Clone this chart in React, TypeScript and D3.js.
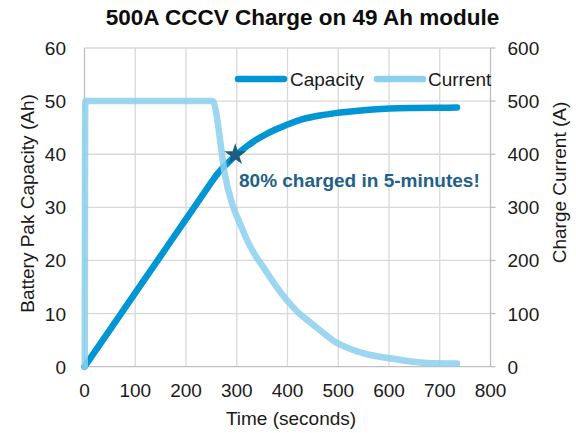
import React from "react";
import * as d3 from "d3";

const title = "500A CCCV Charge on 49 Ah module";
const xTicks = [0, 100, 200, 300, 400, 500, 600, 700, 800];
const yLeftTicks = [0, 10, 20, 30, 40, 50, 60];
const yRightTicks = [0, 100, 200, 300, 400, 500, 600];

// Capacity (Ah) vs time (s)
const capTime = [0, 50, 100, 150, 200, 240, 254, 262, 270, 285, 297, 320, 340, 360, 385, 400, 430, 464, 500, 550, 602, 650, 700, 734];
const capValue = [0, 6.94, 13.89, 20.83, 27.78, 33.33, 35.28, 36.3, 37.2, 38.6, 39.7, 41.5, 42.8, 43.9, 45.0, 45.6, 46.6, 47.3, 47.8, 48.3, 48.6, 48.7, 48.75, 48.8];

// Current (A) vs time (s)
const curTime = [0.5, 1.5, 250, 254, 260, 267, 276, 293, 308, 320, 335, 352, 375, 398, 420, 444, 470, 495, 525, 563, 608, 642, 675, 734];
const curValue = [0, 500, 500, 499, 475, 428, 365, 301, 266, 239, 212, 188, 155, 126, 103, 84, 64, 46, 33, 22, 15, 10, 7, 6];

const starPoint = { t: 297, v: 39.9 };
const annotation = "80% charged in 5-minutes!";

export default function App() {
  const W = 576, H = 433;
  const x = d3.scaleLinear().domain([0, 800]).range([84.5, 490.5]);
  const yL = d3.scaleLinear().domain([0, 60]).range([366.7, 48]);
  const yR = d3.scaleLinear().domain([0, 600]).range([366.7, 48]);

  const capData = capTime.map((t, i) => [t, capValue[i]] as [number, number]);
  const curData = curTime.map((t, i) => [t, curValue[i]] as [number, number]);

  const capLine = d3.line<[number, number]>().x(d => x(d[0])).y(d => yL(d[1])).curve(d3.curveMonotoneX);
  const curLine = d3.line<[number, number]>().x(d => x(d[0])).y(d => yR(d[1])).curve(d3.curveMonotoneX);

  const capColor = "#0096d6";
  const curColor = "#8ccfee";
  const font = "Liberation Sans, Arial, sans-serif";
  const fs = 19;
  const star = d3.symbol().type(d3.symbolStar).size(150)();

  return (
    <div style={{ position: "fixed", left: 0, top: 0 }}>
      <svg width={W} height={H} style={{ display: "block", background: "#fff" }} fontFamily={font}>
        <rect width={W} height={H} fill="#fff" />
        {/* gridlines */}
        {xTicks.slice(1, -1).map(t => (
          <line key={"gx" + t} x1={x(t)} x2={x(t)} y1={yL(60)} y2={yL(0)} stroke="#d9d9d9" strokeWidth={1.3} />
        ))}
        {yLeftTicks.slice(1).map(t => (
          <line key={"gy" + t} x1={x(0)} x2={x(800)} y1={yL(t)} y2={yL(t)} stroke="#d9d9d9" strokeWidth={1.3} />
        ))}
        {/* axes */}
        <line x1={x(0)} x2={x(0)} y1={yL(60)} y2={yL(0)} stroke="#bfbfbf" strokeWidth={1.3} />
        <line x1={x(800)} x2={x(800)} y1={yL(60)} y2={yL(0)} stroke="#bfbfbf" strokeWidth={1.3} />
        <line x1={x(0)} x2={x(800)} y1={yL(0)} y2={yL(0)} stroke="#bfbfbf" strokeWidth={1.3} />
        {yRightTicks.map(t => (
          <line key={"rt" + t} x1={x(800)} x2={x(800) + 5} y1={yR(t)} y2={yR(t)} stroke="#bfbfbf" strokeWidth={1.3} />
        ))}
        {/* tick labels */}
        {xTicks.map(t => (
          <text key={"xl" + t} x={x(t)} y={397} fontSize={fs} textAnchor="middle" fill="#1a1a1a">{t}</text>
        ))}
        {yLeftTicks.map(t => (
          <text key={"yl" + t} x={66} y={yL(t) + 7} fontSize={fs} textAnchor="end" fill="#1a1a1a">{t}</text>
        ))}
        {yRightTicks.map(t => (
          <text key={"yr" + t} x={507.5} y={yR(t) + 7} fontSize={fs} textAnchor="start" fill="#1a1a1a">{t}</text>
        ))}
        {/* axis titles */}
        <text x={291} y={425} fontSize={fs} textAnchor="middle" fill="#1a1a1a">Time (seconds)</text>
        <text transform={`translate(33.5,203.5) rotate(-90)`} fontSize={fs} textAnchor="middle" fill="#1a1a1a">Battery Pak Capacity (Ah)</text>
        <text transform={`translate(566,182.5) rotate(-90)`} fontSize={fs} textAnchor="middle" fill="#1a1a1a">Charge Current (A)</text>
        {/* title */}
        <text x={302.5} y={25} fontSize={22.5} fontWeight="bold" textAnchor="middle" fill="#0d0d0d">{title}</text>
        {/* series */}
        <path d={capLine(capData) || ""} fill="none" stroke={capColor} strokeWidth={6.5} strokeLinecap="round" strokeLinejoin="round" />
        <path d={curLine(curData) || ""} fill="none" stroke={curColor} strokeOpacity={0.85} strokeWidth={6.5} strokeLinecap="round" strokeLinejoin="round" />
        {/* star + annotation */}
        <path d={star || ""} transform={`translate(${x(starPoint.t)},${yL(starPoint.v)})`} fill="#1c5c80" />
        <text x={239} y={187} fontSize={fs} fontWeight="bold" fill="#1f6188">{annotation}</text>
        {/* legend */}
        <line x1={238} x2={284} y1={79} y2={79} stroke={capColor} strokeWidth={6.5} strokeLinecap="round" />
        <text x={290} y={86} fontSize={fs} fill="#1a1a1a">Capacity</text>
        <line x1={377} x2={423} y1={79} y2={79} stroke={curColor} strokeWidth={6.5} strokeLinecap="round" />
        <text x={428} y={86} fontSize={fs} fill="#1a1a1a">Current</text>
      </svg>
    </div>
  );
}
